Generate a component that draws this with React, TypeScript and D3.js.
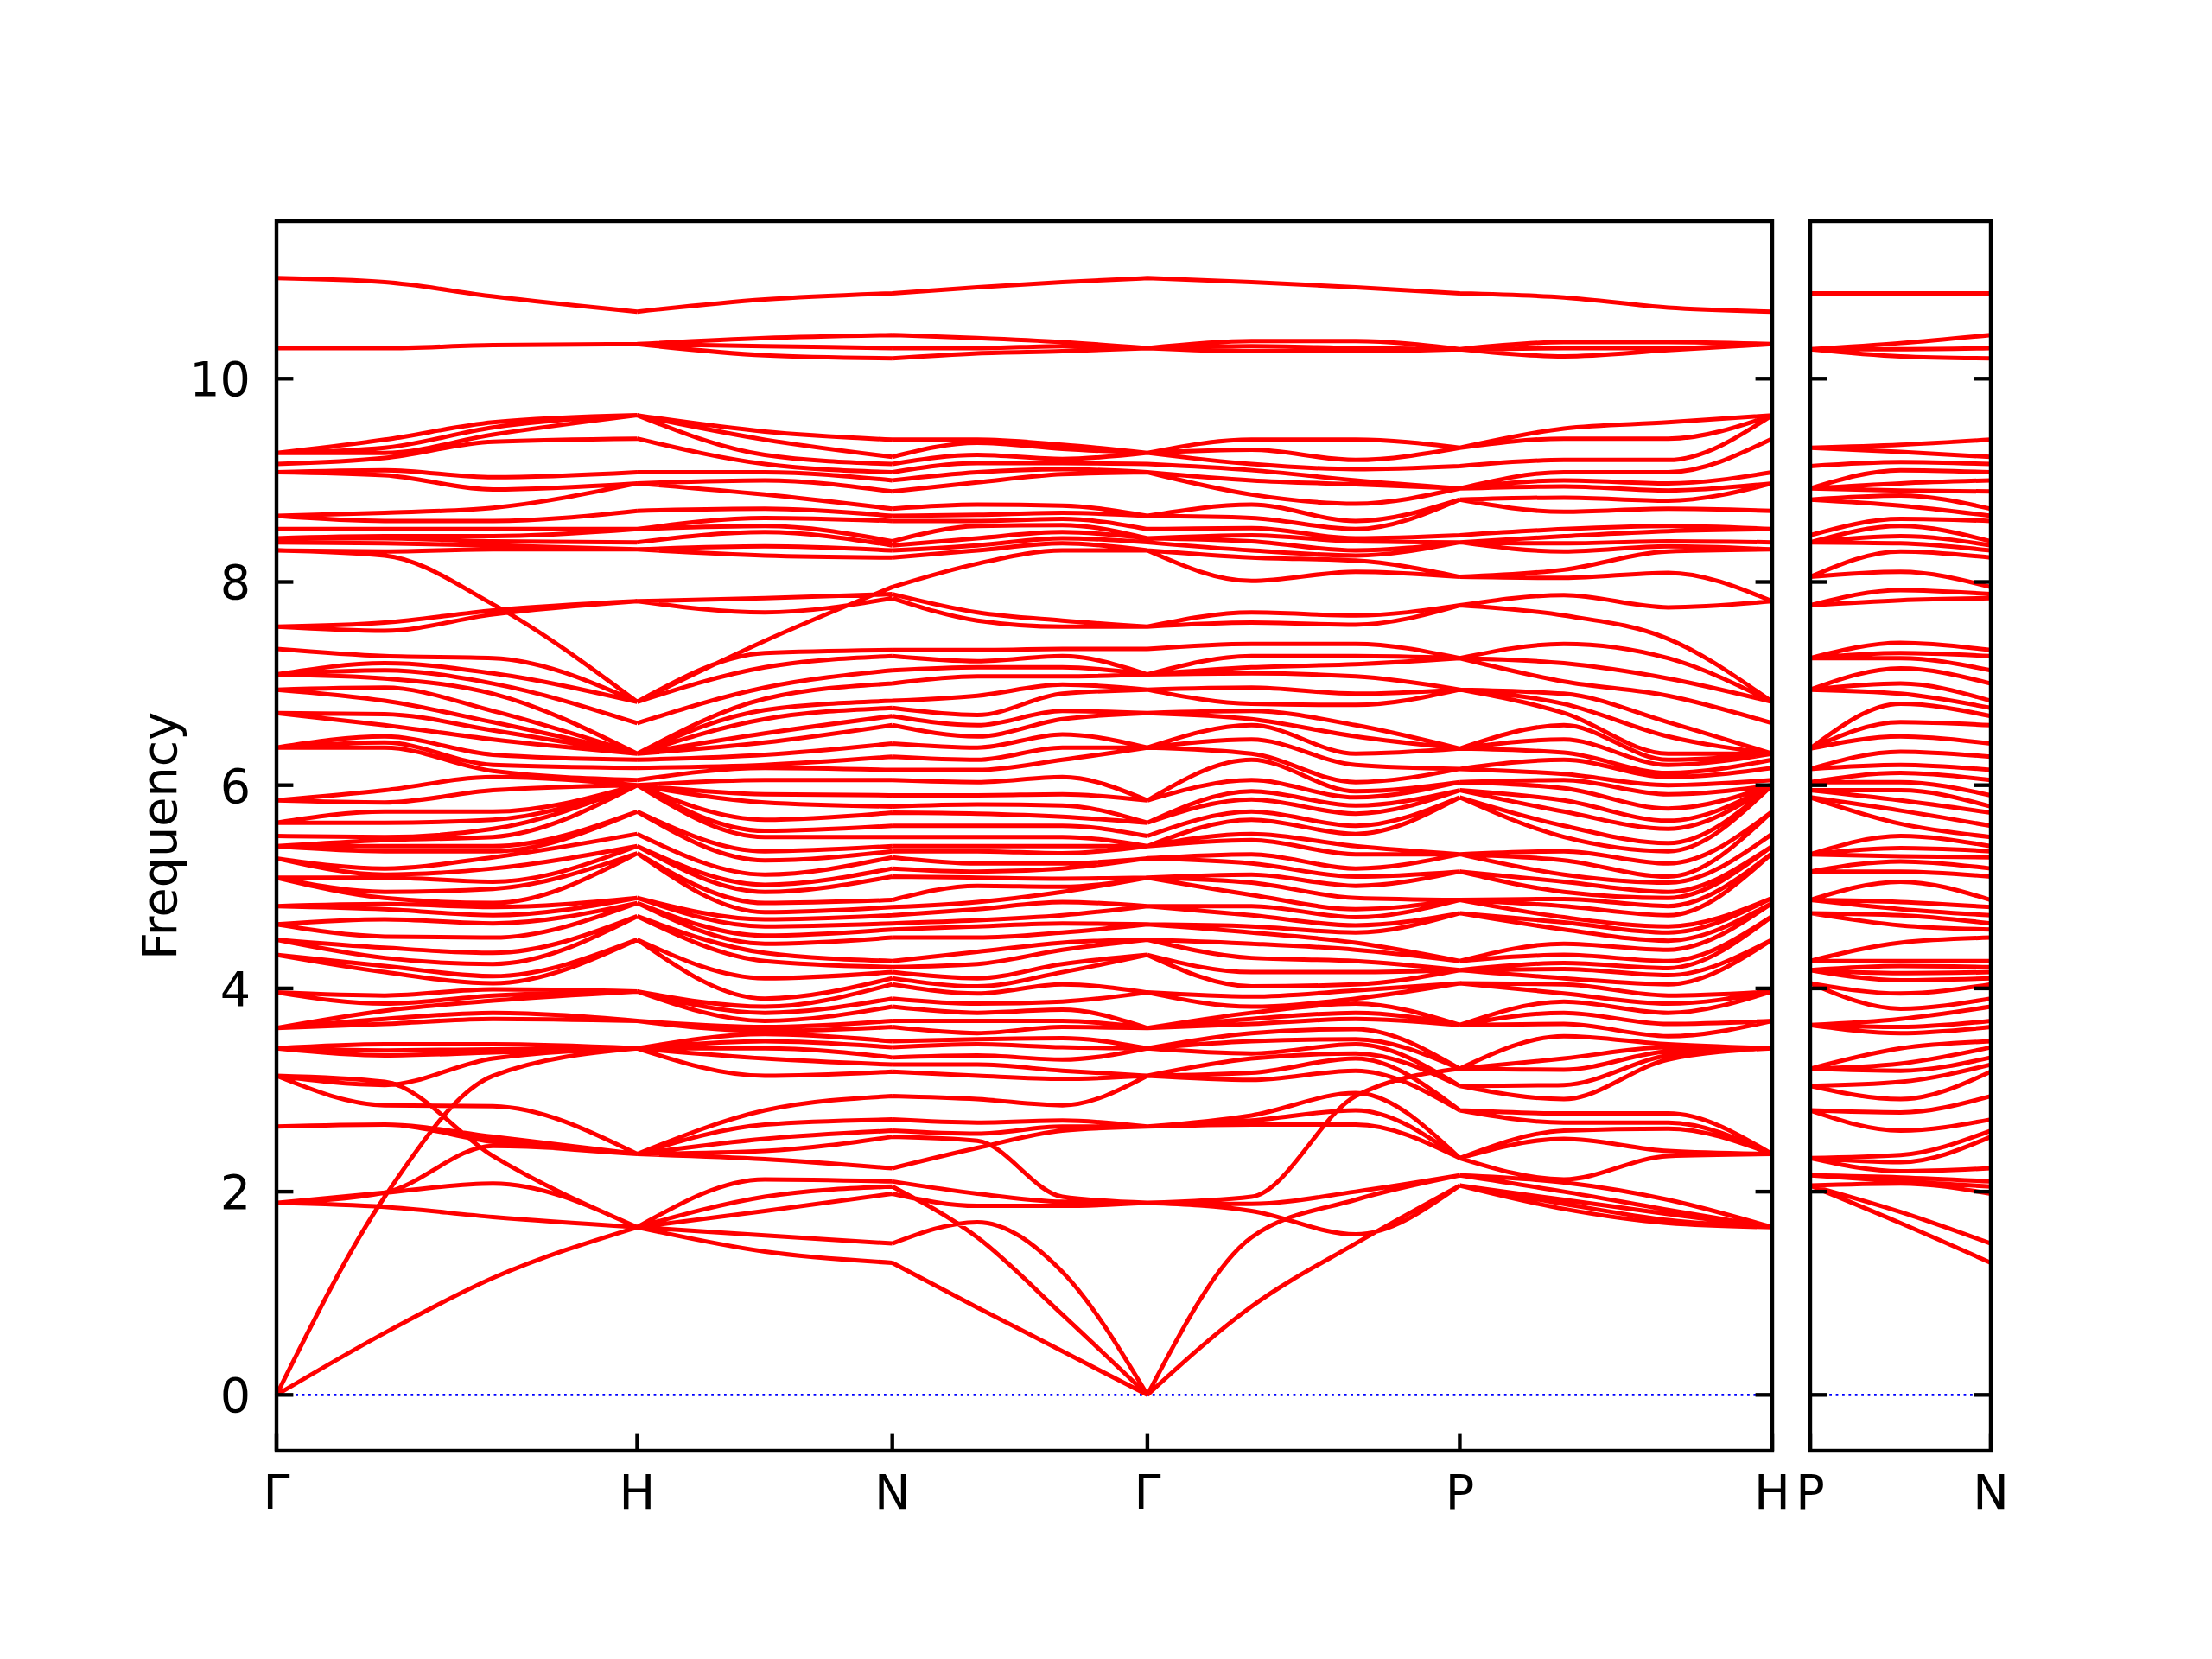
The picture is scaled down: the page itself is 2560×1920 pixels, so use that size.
import React from 'react';
import * as d3 from 'd3';

// ---------- axis / path labels ----------
const yTickValues = [0, 2, 4, 6, 8, 10];
const mainTickPos = [0, 1, 1.70711, 2.41421, 3.28024, 4.14626];
const mainTickLabels = ['Γ', 'H', 'N', 'Γ', 'P', 'H'];
const sideTickPos = [0, 0.5];
const sideTickLabels = ['P', 'N'];
const yLabel = 'Frequency';

// ---------- k-point positions (path length units) ----------
const kGammaH = [0, 0.3, 0.6, 1];
const kHN = [1, 1.35355, 1.70711];
const kNGamma = [1.70711, 1.94281, 2.17851, 2.41421];
const kGammaP = [2.41421, 2.70289, 2.99156, 3.28024];
const kPH = [3.28024, 3.56892, 3.85759, 4.14626];
const kPN = [0, 0.25, 0.5];

// ---------- frequencies (72 bands) at each sampled k-point ----------
const gammaUpper = [
  3.61, 3.61, 3.61, 3.96, 3.96, 4.33, 4.33, 4.48, 4.48, 4.63,
  4.63, 4.81, 4.81, 5.09, 5.09, 5.09, 5.28, 5.28, 5.40, 5.40,
  5.40, 5.50, 5.63, 5.63, 5.85, 5.85, 6.37, 6.37, 6.37, 6.71,
  6.71, 6.94, 6.94, 7.09, 7.09, 7.09, 7.34,
  7.56, 7.56, 8.31, 8.31, 8.39, 8.43, 8.43, 8.52, 8.65, 8.65,
  9.08, 9.08, 9.16, 9.27, 9.27, 9.27, 10.30, 10.30, 10.30, 10.99,
];
const gammaLowA = [0, 0, 0, 1.89, 1.89, 1.89, 2.64, 2.64, 2.64, 3.14, 3.14, 3.14, 3.41, 3.41, 3.41];
const gammaLowB = [0, 0, 3.41, 1.89, 0, 2.64, 1.89, 2.64, 2.64, 1.89, 3.14, 3.14, 3.14, 3.41, 3.41];
const freqG1 = [...gammaLowA, ...gammaUpper];
const freqG2 = [...gammaLowB, ...gammaUpper];

const freqK03 = [
  0.61, 0.61, 1.95, 1.85, 1.99, 1.99, 2.66, 2.66, 2.66, 3.08, 2.85, 3.05, 3.34, 3.39, 3.45,
  3.65, 3.70, 3.78, 3.85, 3.93, 4.16, 4.22, 4.30, 4.40, 4.51,
  4.68, 4.78, 4.83, 4.89, 4.95, 5.09, 5.12, 5.18, 5.35, 5.40,
  5.46, 5.49, 5.63, 5.74, 5.83, 5.95, 6.37, 6.42, 6.48, 6.59,
  6.70, 6.83, 6.96, 7.05, 7.13, 7.20, 7.27,
  7.52, 7.60, 8.26, 8.30, 8.38, 8.43, 8.45, 8.52, 8.60, 8.68,
  9.05, 9.10, 9.22, 9.27, 9.32, 9.40, 10.30, 10.30, 10.30, 10.95,
];
const freqK06 = [
  1.15, 1.15, 3.14, 1.75, 2.08, 2.45, 2.49, 2.50, 2.54, 2.35, 2.84, 3.31, 3.37, 3.40, 3.45,
  3.70, 3.76, 3.88, 3.93, 3.99, 4.05, 4.12, 4.24, 4.35, 4.50,
  4.64, 4.72, 4.80, 4.84, 4.98, 5.05, 5.18, 5.29, 5.35, 5.40,
  5.49, 5.57, 5.66, 5.74, 5.95, 6.08, 6.14, 6.20, 6.30, 6.45,
  6.54, 6.62, 6.73, 6.90, 7.00, 7.10, 7.25,
  7.68, 7.72, 7.78, 8.32, 8.36, 8.40, 8.45, 8.52, 8.60, 8.73,
  8.91, 9.03, 9.38, 9.45, 9.52, 9.57, 10.33, 10.33, 10.33, 10.81,
];
const freqH1 = [
  1.65, 1.65, 3.41, 1.65, 1.65, 2.37, 2.37, 2.37, 2.37, 1.65, 2.37, 3.41, 3.41, 3.41, 3.41,
  3.68, 3.68, 3.97, 3.97, 3.97, 4.48, 4.48, 4.71, 4.71, 4.84,
  4.84, 4.89, 4.89, 5.33, 5.33, 5.40, 5.40, 5.52, 5.74, 5.74,
  6.00, 6.00, 6.00, 6.00, 6.00, 6.00, 6.05, 6.17, 6.25, 6.31,
  6.31, 6.31, 6.31, 6.31, 6.61, 6.82, 6.82,
  7.81, 7.81, 6.82, 8.32, 8.32, 8.39, 8.52, 8.52, 8.70, 8.97,
  8.97, 9.08, 9.41, 9.64, 9.64, 9.64, 10.34, 10.34, 10.34, 10.66,
];
const freqHN = [
  1.41, 1.57, 3.41, 1.81, 1.95, 2.32, 2.40, 2.52, 2.66, 2.12, 2.80, 3.14, 3.31, 3.48, 3.55,
  3.58, 3.62, 3.68, 3.76, 3.82, 3.90, 4.10, 4.27, 4.35, 4.44,
  4.52, 4.61, 4.68, 4.75, 4.84, 4.95, 5.02, 5.12, 5.26, 5.35,
  5.49, 5.55, 5.66, 5.83, 5.91, 6.05, 6.17, 6.20, 6.30, 6.42,
  6.51, 6.65, 6.74, 6.85, 6.96, 7.16, 7.30,
  7.70, 7.84, 7.42, 8.26, 8.35, 8.49, 8.55, 8.63, 8.72, 8.86,
  9.00, 9.08, 9.16, 9.25, 9.40, 9.48, 10.23, 10.32, 10.40, 10.78,
];
const nUpper = [
  3.62, 3.68, 3.82, 3.90, 4.04, 4.10, 4.16, 4.21, 4.27, 4.50,
  4.58, 4.64, 4.72, 4.80, 4.87, 5.10, 5.18, 5.29, 5.35, 5.40,
  5.49, 5.60, 5.73, 5.79, 5.90, 6.05, 6.15, 6.28, 6.41, 6.59,
  6.68, 6.76, 6.83, 7.00, 7.13, 7.27, 7.33,
  7.84, 7.88, 7.95, 8.24, 8.31, 8.36, 8.40, 8.60, 8.65, 8.72,
  8.89, 9.00, 9.08, 9.16, 9.23, 9.40, 10.20, 10.30, 10.43, 10.84,
];
const nLowA = [1.30, 1.49, 3.32, 1.98, 2.05, 2.23, 2.54, 2.60, 2.71, 2.10, 2.94, 3.18, 3.25, 3.42, 3.48];
const nLowB = [1.30, 1.49, 3.18, 1.98, 2.05, 2.23, 2.10, 2.54, 2.60, 3.32, 2.71, 2.94, 3.25, 3.42, 3.48];
const freqN = [...nLowA, ...nUpper];
const freqN2 = [...nLowB, ...nUpper];

const freqNG1 = [
  0.86, 1.70, 3.34, 1.86, 1.55, 2.43, 2.50, 2.57, 2.68, 1.98, 2.91, 3.14, 3.25, 3.45, 3.50,
  3.56, 3.68, 3.76, 3.85, 3.95, 4.02, 4.10, 4.24, 4.36, 4.50,
  4.61, 4.67, 4.78, 4.85, 5.01, 5.09, 5.15, 5.23, 5.35, 5.40,
  5.49, 5.60, 5.72, 5.81, 5.90, 6.03, 6.15, 6.25, 6.37, 6.48,
  6.59, 6.69, 6.88, 7.07, 7.16, 7.22, 7.33,
  7.62, 7.70, 8.18, 8.31, 8.36, 8.43, 8.55, 8.60, 8.66, 8.76,
  8.98, 9.08, 9.17, 9.25, 9.37, 9.40, 10.25, 10.30, 10.40, 10.90,
];
const freqNG2 = [
  0.43, 1.21, 3.30, 1.86, 0.79, 2.60, 1.95, 2.64, 2.70, 1.90, 2.85, 3.11, 3.19, 3.42, 3.51,
  3.62, 3.68, 3.79, 3.87, 4.04, 4.16, 4.24, 4.38, 4.45, 4.55,
  4.64, 4.72, 4.85, 4.95, 5.00, 5.08, 5.18, 5.23, 5.33, 5.40,
  5.49, 5.60, 5.69, 5.80, 5.91, 6.08, 6.25, 6.37, 6.50, 6.65,
  6.73, 6.90, 6.99, 7.07, 7.16, 7.27, 7.34,
  7.56, 7.62, 8.31, 8.38, 8.43, 8.49, 8.56, 8.62, 8.68, 8.75,
  9.06, 9.11, 9.17, 9.21, 9.31, 9.35, 10.27, 10.32, 10.36, 10.95,
];
const freqGP1 = [
  0.87, 0.87, 3.36, 1.81, 1.55, 2.66, 1.88, 2.70, 2.75, 1.95, 3.10, 3.17, 3.31, 3.48, 3.56,
  3.65, 3.70, 3.76, 3.82, 3.92, 4.02, 4.16, 4.30, 4.44, 4.55,
  4.61, 4.72, 4.81, 4.92, 5.04, 5.12, 5.23, 5.32, 5.46, 5.52,
  5.66, 5.74, 5.86, 5.94, 6.05, 6.25, 6.31, 6.45, 6.59, 6.65,
  6.73, 6.80, 6.96, 7.10, 7.16, 7.27, 7.39,
  7.60, 7.70, 8.01, 8.24, 8.31, 8.40, 8.46, 8.53, 8.63, 8.76,
  8.86, 9.00, 9.10, 9.16, 9.30, 9.40, 10.27, 10.32, 10.37, 10.95,
];
const freqGP2 = [
  1.49, 1.49, 3.45, 1.58, 1.92, 2.66, 2.00, 2.80, 2.97, 2.94, 3.19, 3.31, 3.36, 3.50, 3.60,
  3.70, 3.76, 3.85, 3.90, 3.98, 4.04, 4.16, 4.27, 4.38, 4.45,
  4.55, 4.62, 4.70, 4.78, 4.89, 5.01, 5.10, 5.18, 5.32, 5.40,
  5.52, 5.60, 5.72, 5.80, 5.88, 5.94, 6.03, 6.20, 6.31, 6.48,
  6.59, 6.79, 6.90, 7.07, 7.19, 7.27, 7.39,
  7.58, 7.67, 8.10, 8.21, 8.26, 8.31, 8.40, 8.43, 8.52, 8.60,
  8.77, 8.96, 9.00, 9.11, 9.20, 9.40, 10.27, 10.30, 10.37, 10.90,
];
const freqP = [
  2.06, 2.06, 3.04, 2.06, 2.16, 2.33, 2.16, 2.33, 2.33, 3.21, 2.80, 2.80, 3.04, 3.21, 3.21,
  3.64, 3.64, 3.64, 4.05, 4.05, 4.18, 4.18, 4.18, 4.27, 4.27,
  4.74, 4.74, 4.87, 4.87, 4.87, 5.15, 5.15, 5.32, 5.32, 5.32,
  5.88, 5.88, 5.95, 5.95, 6.03, 6.03, 6.16, 6.16, 6.36, 6.36,
  6.36, 6.94, 6.94, 6.94, 7.25, 7.25, 7.25,
  7.77, 7.77, 8.05, 8.05, 8.39, 8.39, 8.39, 8.46, 8.81, 8.81,
  8.92, 8.92, 8.92, 9.14, 9.32, 9.32, 10.29, 10.29, 10.29, 10.84,
];
const freqPH1 = [
  1.83, 1.88, 2.91, 1.92, 2.00, 2.12, 2.09, 2.52, 2.60, 3.20, 2.68, 2.77, 3.05, 3.31, 3.53,
  3.65, 3.76, 3.87, 3.95, 4.04, 4.10, 4.19, 4.25, 4.33, 4.44,
  4.58, 4.65, 4.70, 4.81, 4.88, 4.95, 5.05, 5.12, 5.26, 5.35,
  5.49, 5.60, 5.74, 5.85, 5.97, 6.05, 6.11, 6.25, 6.32, 6.45,
  6.59, 6.71, 6.80, 6.90, 7.02, 7.20, 7.39,
  7.67, 7.87, 8.04, 8.12, 8.30, 8.38, 8.45, 8.52, 8.69, 8.83,
  8.94, 9.00, 9.08, 9.20, 9.41, 9.51, 10.22, 10.30, 10.36, 10.80,
];
const freqPH2 = [
  1.69, 1.72, 3.30, 1.78, 1.82, 2.35, 1.92, 2.40, 2.62, 3.38, 2.68, 2.77, 3.34, 3.42, 3.45,
  3.53, 3.65, 3.76, 3.85, 3.93, 4.04, 4.13, 4.20, 4.27, 4.38,
  4.47, 4.55, 4.61, 4.72, 4.81, 4.89, 4.95, 5.04, 5.10, 5.23,
  5.35, 5.43, 5.57, 5.65, 5.77, 5.91, 6.00, 6.08, 6.12, 6.20,
  6.25, 6.31, 6.48, 6.62, 6.88, 7.05, 7.25,
  7.44, 7.75, 8.09, 8.30, 8.35, 8.40, 8.50, 8.55, 8.72, 8.80,
  8.90, 8.97, 9.08, 9.20, 9.41, 9.57, 10.28, 10.30, 10.36, 10.70,
];
const freqH2 = [
  1.65, 1.65, 3.41, 1.65, 1.65, 2.37, 1.65, 2.37, 2.37, 3.41, 2.37, 2.37, 3.41, 3.41, 3.41,
  3.68, 3.68, 3.97, 3.97, 3.97, 4.48, 4.48, 4.71, 4.71, 4.84,
  4.84, 4.89, 4.89, 5.33, 5.33, 5.40, 5.40, 5.52, 5.74, 5.74,
  6.00, 6.00, 6.00, 6.00, 6.00, 6.00, 6.05, 6.17, 6.25, 6.31,
  6.31, 6.31, 6.31, 6.31, 6.61, 6.82, 6.82,
  6.82, 7.81, 7.81, 8.32, 8.32, 8.39, 8.52, 8.52, 8.70, 8.97,
  8.97, 9.08, 9.41, 9.64, 9.64, 9.64, 10.34, 10.34, 10.34, 10.66,
];
const freqPN = [
  1.69, 1.80, 2.91, 2.08, 2.10, 2.20, 2.14, 2.29, 2.36, 3.19, 2.60, 2.78, 3.08, 3.26, 3.41,
  3.56, 3.62, 3.70, 3.80, 3.95, 4.08, 4.15, 4.22, 4.27, 4.45,
  4.62, 4.72, 4.78, 4.85, 5.05, 5.15, 5.25, 5.30, 5.38, 5.50,
  5.62, 5.75, 5.85, 5.95, 6.03, 6.12, 6.20, 6.33, 6.48, 6.62,
  6.80, 6.90, 7.00, 7.15, 7.25, 7.30, 7.40,
  7.82, 7.92, 8.10, 8.30, 8.38, 8.45, 8.55, 8.62, 8.75, 8.85,
  8.90, 8.97, 9.10, 9.18, 9.28, 9.35, 10.22, 10.29, 10.35, 10.84,
];

// ---------- layout ----------
const W = 2560;
const H = 1920;
const mainBox = { left: 320, right: 2051, top: 256, bottom: 1679 };
const sideBox = { left: 2095, right: 2304, top: 256, bottom: 1679 };
const FONT = 'DejaVu Sans, Liberation Sans, sans-serif';
const FS = 55.6;
const TICK = 19.4;
const SPINE = 4.4;

export default function App() {
  const x = d3.scaleLinear().domain([0, mainTickPos[mainTickPos.length - 1]]).range([mainBox.left, mainBox.right]);
  const x2 = d3.scaleLinear().domain([0, 0.5]).range([sideBox.left, sideBox.right]);
  const y = d3.scaleLinear().domain([-0.55, 11.55]).range([mainBox.bottom, mainBox.top]);

  const segments = [
    { sx: x, ks: kGammaH, fs: [freqG1, freqK03, freqK06, freqH1] },
    { sx: x, ks: kHN, fs: [freqH1, freqHN, freqN] },
    { sx: x, ks: kNGamma, fs: [freqN, freqNG1, freqNG2, freqG2] },
    { sx: x, ks: kGammaP, fs: [freqG2, freqGP1, freqGP2, freqP] },
    { sx: x, ks: kPH, fs: [freqP, freqPH1, freqPH2, freqH2] },
    { sx: x2, ks: kPN, fs: [freqP, freqPN, freqN2] },
  ];

  const line = d3.line<[number, number]>().curve(d3.curveMonotoneX);
  const bandPaths: string[] = [];
  segments.forEach((seg) => {
    const nb = Math.min(...seg.fs.map((f) => f.length));
    for (let b = 0; b < nb; b++) {
      const pts = seg.ks.map((k, j) => [seg.sx(k), y(seg.fs[j][b])] as [number, number]);
      const d = line(pts);
      if (d) bandPaths.push(d);
    }
  });

  const boxes = [mainBox, sideBox];

  return (
    <svg
      width={W}
      height={H}
      viewBox={`0 0 ${W} ${H}`}
      style={{ position: 'absolute', left: 0, top: 0, background: '#ffffff' }}
    >
      <rect x={0} y={0} width={W} height={H} fill="#ffffff" />
      {boxes.map((b, i) => (
        <line
          key={`zero${i}`}
          x1={b.left}
          x2={b.right}
          y1={y(0)}
          y2={y(0)}
          stroke="#0000ff"
          strokeWidth={2.8}
          strokeDasharray="2.8 4.6"
        />
      ))}
      <path d={bandPaths.join('')} fill="none" stroke="#ff0000" strokeWidth={5} strokeLinejoin="round" />
      {boxes.map((b, i) =>
        yTickValues.map((v) => (
          <g key={`yt${i}-${v}`}>
            <line x1={b.left} x2={b.left + TICK} y1={y(v)} y2={y(v)} stroke="#000" strokeWidth={SPINE} />
            <line x1={b.right - TICK} x2={b.right} y1={y(v)} y2={y(v)} stroke="#000" strokeWidth={SPINE} />
          </g>
        ))
      )}
      {mainTickPos.map((k, i) => (
        <line key={`xt${i}`} x1={x(k)} x2={x(k)} y1={mainBox.bottom} y2={mainBox.bottom - TICK} stroke="#000" strokeWidth={SPINE} />
      ))}
      {sideTickPos.map((k, i) => (
        <line key={`xs${i}`} x1={x2(k)} x2={x2(k)} y1={sideBox.bottom} y2={sideBox.bottom - TICK} stroke="#000" strokeWidth={SPINE} />
      ))}
      {boxes.map((b, i) => (
        <rect
          key={`box${i}`}
          x={b.left}
          y={b.top}
          width={b.right - b.left}
          height={b.bottom - b.top}
          fill="none"
          stroke="#000"
          strokeWidth={SPINE}
        />
      ))}
      {yTickValues.map((v) => (
        <text key={`yl${v}`} x={mainBox.left - 30} y={y(v) + 20} textAnchor="end" fontFamily={FONT} fontSize={FS} fill="#000">
          {String(v)}
        </text>
      ))}
      {mainTickPos.map((k, i) => (
        <text key={`xl${i}`} x={x(k)} y={1746} textAnchor="middle" fontFamily={FONT} fontSize={FS} fill="#000">
          {mainTickLabels[i]}
        </text>
      ))}
      {sideTickPos.map((k, i) => (
        <text key={`xsl${i}`} x={x2(k)} y={1746} textAnchor="middle" fontFamily={FONT} fontSize={FS} fill="#000">
          {sideTickLabels[i]}
        </text>
      ))}
      <text
        transform={`translate(204, ${(mainBox.top + mainBox.bottom) / 2}) rotate(-90)`}
        textAnchor="middle"
        fontFamily={FONT}
        fontSize={FS}
        fill="#000"
      >
        {yLabel}
      </text>
    </svg>
  );
}
